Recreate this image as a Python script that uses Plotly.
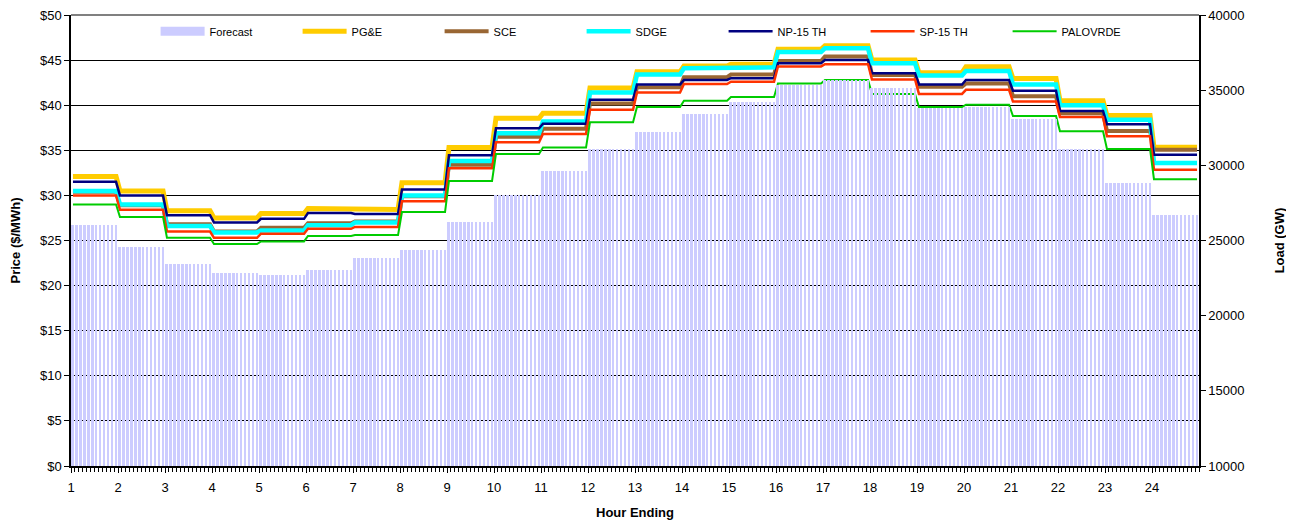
import plotly.graph_objects as go

hours = list(range(1, 25))

forecast = [26030, 24570, 23440, 22850, 22720, 23040, 23840, 24370, 26220, 28010, 29600, 31120,
            32250, 33440, 34240, 35360, 35690, 35160, 33840, 33900, 33050, 31060, 28800, 26690]

pge = [32.1, 30.5, 28.3, 27.5, 28.0, 28.55, 28.45, 31.4, 35.3, 38.55, 39.1, 41.9,
       43.7, 44.35, 44.55, 46.2, 46.6, 45.0, 43.6, 44.25, 42.95, 40.5, 38.85, 35.35]
sce = [30.4, 28.9, 26.8, 26.0, 26.4, 26.9, 27.1, 29.9, 33.4, 36.5, 37.4, 40.2,
       42.0, 43.1, 43.4, 44.9, 45.4, 43.35, 42.05, 42.4, 41.0, 39.1, 37.15, 35.05]
sdge = [30.5, 29.0, 26.6, 25.9, 26.1, 26.7, 27.0, 30.0, 33.8, 36.9, 38.2, 41.4,
        43.4, 44.1, 44.2, 45.9, 46.3, 44.65, 43.3, 43.8, 42.3, 40.0, 38.4, 33.6]
np15 = [31.5, 30.0, 27.8, 27.0, 27.4, 28.05, 27.95, 30.65, 34.45, 37.45, 37.95, 40.6,
        42.3, 42.8, 43.0, 44.65, 45.0, 43.55, 42.3, 42.8, 41.6, 39.35, 37.9, 34.5]
sp15 = [30.0, 28.4, 26.0, 25.3, 25.75, 26.3, 26.5, 29.35, 33.0, 35.9, 36.8, 39.5,
        41.4, 42.35, 42.6, 44.3, 44.55, 42.85, 41.25, 41.7, 40.4, 38.7, 36.55, 32.85]
palo = [29.0, 27.6, 25.3, 24.6, 24.9, 25.5, 25.6, 28.15, 31.6, 34.6, 35.3, 38.1,
        39.8, 40.5, 40.9, 42.4, 42.8, 41.25, 39.8, 40.05, 38.8, 37.1, 35.15, 31.8]

# 12 five-minute intervals per hour
STEPS = 12
x5 = [h + (k + 0.5) / STEPS for h in hours for k in range(STEPS)]


def per5(vals):
    return [v for v in vals for _ in range(STEPS)]


fig = go.Figure()

fig.add_trace(go.Bar(x=x5, y=per5(forecast), yaxis="y2", marker=dict(color="#CCCCFF", line=dict(width=0)),
                     width=0.5 / STEPS, showlegend=False, name="Forecast"))
# legend proxy for the wide forecast swatch
fig.add_trace(go.Scatter(x=[None], y=[None], mode="lines", name="Forecast",
                         line=dict(color="#CCCCFF", width=9)))

series = [
    ("PG&E", pge, "#FFCC00", 5),
    ("SCE", sce, "#996633", 4),
    ("SDGE", sdge, "#00FFFF", 4.5),
    ("NP-15 TH", np15, "#000080", 2.5),
    ("SP-15 TH", sp15, "#FF3300", 2.5),
    ("PALOVRDE", palo, "#00CC00", 2),
]
for name, vals, color, w in series:
    fig.add_trace(go.Scatter(x=x5, y=per5(vals), mode="lines", name=name,
                             line=dict(color=color, width=w)))

font = "Liberation Sans, Arial, sans-serif"
# page body adds an 8px offset, so the figure is 8px smaller on each side
fig.update_layout(
    width=1286, height=513,
    margin=dict(l=63, r=95, t=7, b=55, autoexpand=False),
    plot_bgcolor="white", paper_bgcolor="white",
    font=dict(family=font, size=13, color="black"),
    bargap=0,
    legend=dict(orientation="h", x=0.075, y=0.996, xanchor="left", yanchor="top",
                entrywidth=83, entrywidthmode="pixels", itemwidth=44, font=dict(size=11),
                bgcolor="rgba(0,0,0,0)", traceorder="normal"),
    xaxis=dict(range=[1, 25], tickvals=hours, ticktext=[str(h) for h in hours],
               showgrid=False, showline=True, linecolor="black", linewidth=1.5,
               ticks="outside", ticklen=5, tickcolor="black", automargin=False, ticklabelstandoff=4,
               ticklabeloverflow="allow",
               minor=dict(dtick=1 / STEPS, ticks="outside", ticklen=4, tickcolor="black"),
               title=dict(text="<b>Hour Ending</b>", font=dict(size=13), standoff=14),
               zeroline=False),
    yaxis=dict(range=[0, 50], dtick=5, tickprefix="$", showgrid=True, gridcolor="black", gridwidth=1,
               showline=True, linecolor="black", linewidth=1.5, ticks="outside", ticklen=5,
               tickcolor="black", zeroline=False, automargin=False, ticklabeloverflow="allow",
               title=dict(text="<b>Price ($/MWh)</b>", font=dict(size=13), standoff=17)),
    yaxis2=dict(range=[10000, 40000], dtick=5000, tickformat="d", overlaying="y", side="right",
                showgrid=False, showline=True, linecolor="black", linewidth=1.5, ticks="outside",
                ticklen=5, tickcolor="black", zeroline=False, automargin=False, ticklabeloverflow="allow",
                title=dict(text="<b>Load (GW)</b>", font=dict(size=13), standoff=31)),
)

# grey top border of the plot area
fig.add_shape(type="line", xref="paper", yref="paper", x0=0, x1=1, y0=1, y1=1,
              line=dict(color="#808080", width=2))

fig.write_html("out.html")
